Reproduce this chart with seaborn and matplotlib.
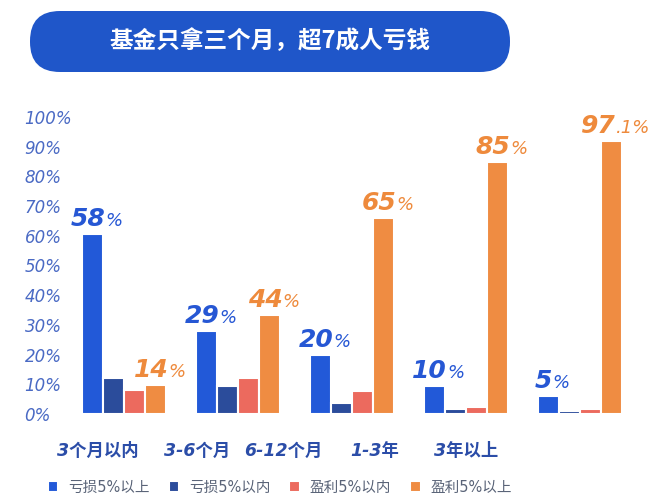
import pandas as pd
import numpy as np
import seaborn as sns
import matplotlib.pyplot as plt
from matplotlib.patches import FancyBboxPatch
from matplotlib.transforms import IdentityTransform
from matplotlib.offsetbox import TextArea, HPacker, AnnotationBbox

# data
periods = ['3个月以内', '3-6个月', '6-12个月', '1-3年', '3年以上']
series = ['亏损5%以上', '亏损5%以内', '盈利5%以内', '盈利5%以上']
loss_over5 = [60.6, 28.0, 19.9, 9.4, 6.0]
loss_under5 = [12.1, 9.4, 3.7, 1.7, 1.0]
gain_under5 = [8.1, 12.1, 7.7, 2.4, 1.7]
gain_over5 = [9.8, 33.3, 66.0, 84.8, 91.9]
blue_labels = [('58', '%'), ('29', '%'), ('20', '%'), ('10', '%'), ('5', '%')]
orange_labels = [('14', '%'), ('44', '%'), ('65', '%'), ('85', '%'), ('97', '.1%')]
# category labels sit a bit left of the groups in the original
tick_pos = [-0.23, 0.64, 1.40, 2.20, 3.00]

colors = ['#2259d8', '#2b4c9b', '#ec6a5e', '#ef8c42']
blue_txt = '#2657d4'
orange_txt = '#ee8a3c'

rows = []
for i, p in enumerate(periods):
    for s, vals in zip(series, [loss_over5, loss_under5, gain_under5, gain_over5]):
        rows.append({'period': p, 'type': s, 'value': vals[i]})
df = pd.DataFrame(rows)

sns.set_style('white')
plt.rcParams['font.family'] = ['DejaVu Sans', 'Noto Sans CJK SC']

fig = plt.figure(figsize=(6.5, 5), dpi=100)
ax = fig.add_axes([0.0855, 0.172, 0.894, 0.624])

sns.barplot(data=df, x='period', y='value', hue='type', order=periods,
            hue_order=series, palette=colors, width=0.74, saturation=1,
            edgecolor='white', linewidth=1.5, ax=ax)

handles, labels = ax.get_legend_handles_labels()
ax.get_legend().remove()

ax.set_xlim(-0.6, 4.5)
ax.set_ylim(0, 105)
ax.set_xlabel('')
ax.set_ylabel('')
sns.despine(ax=ax, left=True, bottom=True)

yt = list(range(0, 101, 10))
ax.set_yticks(yt)
ax.set_yticklabels([f'{v}%' for v in yt], fontsize=12, style='italic', color='#4a6ac4')
for t in ax.get_yticklabels():
    t.set_ha('left')
ax.tick_params(axis='y', length=0, pad=22.3)

ax.set_xticks(tick_pos)
ax.set_xticklabels(periods, fontsize=12.5, style='italic', weight='bold', color='#2b4da8')
ax.tick_params(axis='x', length=0, pad=20)


def add_label(bar, parts, color):
    cx = bar.get_x() + bar.get_width() / 2
    h = bar.get_height()
    big = TextArea(parts[0], textprops=dict(fontsize=18, weight='bold', style='italic', color=color))
    small = TextArea(parts[1], textprops=dict(fontsize=13, style='italic', color=color))
    box = HPacker(children=[big, small], align='baseline', pad=0, sep=0)
    ab = AnnotationBbox(box, (cx, h), xybox=(3, 2), boxcoords='offset points',
                        frameon=False, box_alignment=(0.5, 0))
    ax.add_artist(ab)


for bar, parts in zip(ax.containers[0], blue_labels):
    add_label(bar, parts, blue_txt)
for bar, parts in zip(ax.containers[3], orange_labels):
    add_label(bar, parts, orange_txt)

# title banner
banner = FancyBboxPatch((30, 500 - 72), 480, 61, boxstyle='round,pad=0,rounding_size=30',
                        transform=IdentityTransform(), fc='#1f56c9', ec='none')
fig.add_artist(banner)
fig.text(270 / 650, 1 - 41.5 / 500, '基金只拿三个月，超7成人亏钱', ha='center', va='center',
         color='white', fontsize=17, weight='bold', family=['Noto Sans CJK SC', 'DejaVu Sans'])

fig.legend(handles, labels, loc='center', bbox_to_anchor=(280 / 650, 13 / 500), ncol=4,
           frameon=False, handlelength=0.7, handleheight=0.7, handletextpad=0.7,
           columnspacing=1.3, fontsize=10.5, labelcolor='#5a6478')

fig.savefig('out.png', dpi=100)
